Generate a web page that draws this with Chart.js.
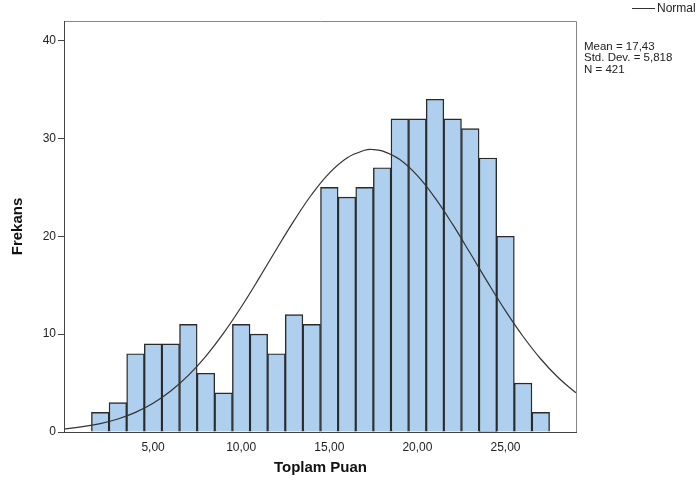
<!DOCTYPE html>
<html>
<head>
<meta charset="utf-8">
<script src="https://cdn.jsdelivr.net/npm/chart.js@4.4.0/dist/chart.umd.min.js"></script>
<style>
html,body{margin:0;padding:0;background:#fff;}
#wrap{width:696px;height:481px;position:relative;}
</style>
</head>
<body>
<div id="wrap"><canvas id="c" width="696" height="481"></canvas></div>
<script>
// Histogram bins (bin centres) and frequencies
const binCenters = [2,3,4,5,6,7,8,9,10,11,12,13,14,15,16,17,18,19,20,21,22,23,24,25,26,27];
const frequencies = [2,3,8,9,9,11,6,4,11,10,8,12,11,25,24,25,27,32,32,34,32,31,28,20,5,2];
// Normal curve points
const curveX = [0,1,2,3,4,5,6,7,8,9,10,11,12,13,14,15,16,17,17.43,18,19,20,21,22,23,24,25,26,27,28,29];
const curveY = [0.32,0.54,0.86,1.33,2.01,2.94,4.19,5.79,7.76,10.10,12.77,15.67,18.68,21.60,24.27,26.46,28.01,28.79,28.87,28.73,27.84,26.19,23.92,21.21,18.26,15.26,12.38,9.76,7.46,5.54,4.00];
const xTicks = [5,10,15,20,25];
const yTicks = [0,10,20,30,40];
const statLines = ["Mean = 17,43", "Std. Dev. = 5,818", "N = 421"];
const legendLabel = "Normal";

const FONT = "'Liberation Sans', Arial, sans-serif";

const framePlugin = {
  id: 'frame',
  afterDatasetsDraw(chart) {
    const {ctx, chartArea: a} = chart;
    ctx.save();
    ctx.strokeStyle = '#888';
    ctx.lineWidth = 1;
    ctx.beginPath();
    ctx.moveTo(a.left, a.top + 0.5);
    ctx.lineTo(a.right + 0.5, a.top + 0.5);
    ctx.lineTo(a.right + 0.5, a.bottom);
    ctx.stroke();
    ctx.strokeStyle = '#444';
    ctx.beginPath();
    ctx.moveTo(a.left - 0.5, a.top);
    ctx.lineTo(a.left - 0.5, a.bottom + 0.5);
    ctx.lineTo(a.right + 1, a.bottom + 0.5);
    ctx.stroke();
    // legend
    ctx.strokeStyle = '#333';
    ctx.beginPath();
    ctx.moveTo(632, 8.5);
    ctx.lineTo(655, 8.5);
    ctx.stroke();
    ctx.fillStyle = '#222';
    ctx.font = "12px " + FONT;
    ctx.textBaseline = 'middle';
    ctx.textAlign = 'left';
    ctx.fillText(legendLabel, 657, 9);
    ctx.font = "11.5px " + FONT;
    statLines.forEach((t, i) => ctx.fillText(t, 584, 46.5 + i * 11.5));
    ctx.restore();
  }
};

new Chart(document.getElementById('c'), {
  type: 'bar',
  data: {
    datasets: [
      {
        type: 'line',
        label: legendLabel,
        data: curveX.map((x, i) => ({x: x, y: curveY[i]})),
        borderColor: '#333',
        borderWidth: 1.2,
        pointRadius: 0,
        tension: 0.4,
        fill: false,
        order: 0
      },
      {
        type: 'bar',
        label: 'Frekans',
        data: binCenters.map((x, i) => ({x: x, y: frequencies[i]})),
        backgroundColor: '#AECFEE',
        borderColor: '#2a2a2a',
        borderWidth: 1.4,
        barPercentage: 1,
        categoryPercentage: 1,
        order: 1
      }
    ]
  },
  options: {
    responsive: false,
    animation: false,
    layout: {padding: {top: 21, right: 120, left: 0, bottom: 0}},
    plugins: {legend: {display: false}, tooltip: {enabled: false}},
    scales: {
      x: {
        type: 'linear',
        min: 0, max: 29,
        offset: false,
        grid: {display: false, drawTicks: false},
        border: {display: false},
        afterBuildTicks(s) { s.ticks = xTicks.map(v => ({value: v})); },
        afterFit(s) { s.height = 49; },
        ticks: {
          color: '#222',
          font: {family: FONT, size: 12},
          padding: 8,
          maxRotation: 0,
          callback: v => v.toFixed(2).replace('.', ',')
        },
        title: {
          display: true,
          text: 'Toplam Puan',
          color: '#111',
          font: {family: FONT, size: 15, weight: 'bold'},
          padding: {top: 0, bottom: 4}
        }
      },
      y: {
        min: 0, max: 42,
        grid: {display: true, drawOnChartArea: false, drawTicks: true, tickLength: 7, tickColor: '#444', color: '#444'},
        border: {display: false},
        afterBuildTicks(s) { s.ticks = yTicks.map(v => ({value: v})); },
        afterFit(s) { s.width = 65; },
        ticks: {
          color: '#222',
          font: {family: FONT, size: 12},
          padding: 2
        },
        title: {
          display: true,
          text: 'Frekans',
          color: '#111',
          font: {family: FONT, size: 15, weight: 'bold'},
          padding: {top: 9, bottom: 0}
        }
      }
    }
  },
  plugins: [framePlugin]
});
</script>
</body>
</html>
